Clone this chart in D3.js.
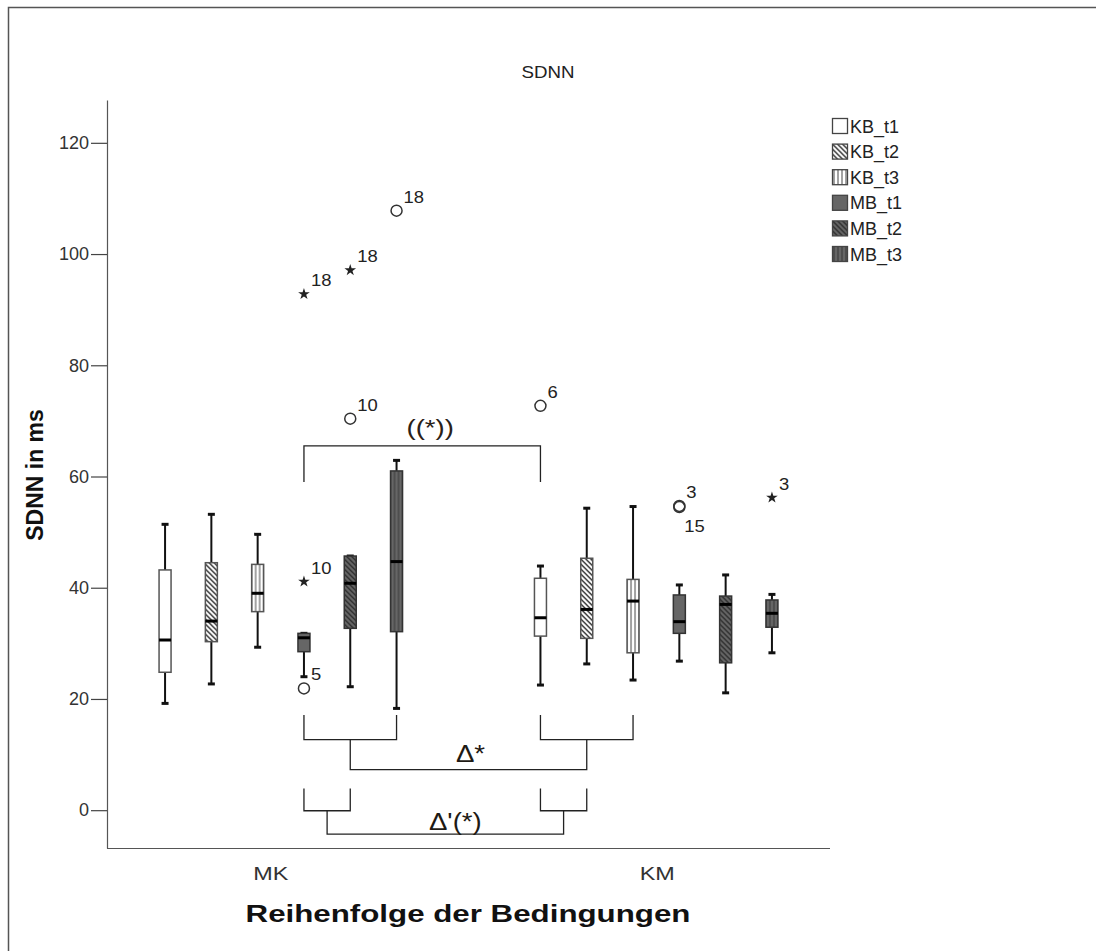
<!DOCTYPE html>
<html>
<head>
<meta charset="utf-8">
<script src="https://cdn.jsdelivr.net/npm/d3@7"></script>
<style>
  body { margin: 0; background: #fff; }
  svg text { font-family: "Liberation Sans", Arial, sans-serif; }
</style>
</head>
<body>
<svg id="chart" width="1096" height="951"></svg>
<script>
// groups on the x axis and the six box series inside each group
const groups = ["MK", "KM"];
const series = ["KB_t1", "KB_t2", "KB_t3", "MB_t1", "MB_t2", "MB_t3"];
const yTicks = [0, 20, 40, 60, 80, 100, 120];

// box statistics, one value per series
const mkLow  = [19.2, 22.7, 29.3, 24.0, 22.2, 18.3];
const mkQ1   = [24.8, 30.3, 35.7, 28.5, 32.7, 32.1];
const mkMed  = [30.6, 34.0, 39.0, 31.0, 40.8, 44.7];
const mkQ3   = [43.2, 44.5, 44.2, 31.8, 45.7, 61.0];
const mkHigh = [51.4, 53.2, 49.6, 31.8, 45.7, 62.9];

const kmLow  = [22.5, 26.3, 23.4, 26.8, 21.1, 28.3];
const kmQ1   = [31.3, 30.9, 28.3, 31.8, 26.5, 32.9];
const kmMed  = [34.6, 36.1, 37.6, 33.9, 37.0, 35.4];
const kmQ3   = [41.7, 45.3, 41.5, 38.7, 38.5, 37.8];
const kmHigh = [43.9, 54.3, 54.6, 40.5, 42.3, 38.8];

// outliers: group, series, value, kind, case label
const outliers = [
  ["MK", "MB_t1", 92.8, "star", "18"],
  ["MK", "MB_t2", 97.1, "star", "18"],
  ["MK", "MB_t3", 107.8, "circle", "18"],
  ["MK", "MB_t2", 70.4, "circle", "10"],
  ["MK", "MB_t1", 41.1, "star", "10"],
  ["MK", "MB_t1", 21.9, "circle", "5"],
  ["KM", "KB_t1", 72.7, "circle", "6"],
  ["KM", "MB_t1", 54.7, "circle", "3"],
  ["KM", "MB_t1", 54.5, "circle", "15"],
  ["KM", "MB_t3", 56.2, "star", "3"]
];

// significance brackets drawn over the boxes
const topBracket = { from: ["MK", "MB_t1"], to: ["KM", "KB_t1"], top: 65.5, foot: 59.0, label: "((*))", labelAt: 67.4 };
const lowBrackets = [
  { left: ["MK", ["MB_t1", "MB_t3"]], right: ["KM", ["KB_t1", "KB_t3"]], feet: [17.1, 12.7], base: 7.3, label: "\u0394*", labelAt: 8.7 },
  { left: ["MK", ["MB_t1", "MB_t2"]], right: ["KM", ["KB_t1", "KB_t2"]], feet: [3.9, -0.1], base: -4.3, label: "\u0394'(*)", labelAt: -3.6 }
];

const boxStats = {
  MK: series.map((s, i) => ({ s, lo: mkLow[i], q1: mkQ1[i], med: mkMed[i], q3: mkQ3[i], hi: mkHigh[i] })),
  KM: series.map((s, i) => ({ s, lo: kmLow[i], q1: kmQ1[i], med: kmMed[i], q3: kmQ3[i], hi: kmHigh[i] }))
};

const svg = d3.select("#chart");

// the original export is a bit wider than tall, so text runs look stretched
function stretch(sel, k) {
  sel.each(function () {
    const w = this.getComputedTextLength();
    d3.select(this).attr("textLength", w * k).attr("lengthAdjust", "spacingAndGlyphs");
  });
}

// frame (top and left edges only are visible)
svg.append("path").attr("d", "M8.5,951 L8.5,7.5 L1096,7.5")
  .attr("fill", "none").attr("stroke", "#555").attr("stroke-width", 1.5);

// patterns
const defs = svg.append("defs");
function hatch(id, bg, fg, kind) {
  const p = defs.append("pattern").attr("id", id).attr("patternUnits", "userSpaceOnUse")
    .attr("width", kind === "diag" ? 5 : 4).attr("height", kind === "diag" ? 5 : 4);
  p.append("rect").attr("width", 6).attr("height", 6).attr("fill", bg);
  if (kind === "diag") {
    p.append("path").attr("d", "M-1,-1 L6,6 M-1,4 L1,6 M4,-1 L6,1")
      .attr("stroke", fg).attr("stroke-width", 1.3);
  } else {
    p.append("line").attr("x1", 2).attr("x2", 2).attr("y1", 0).attr("y2", 4)
      .attr("stroke", fg).attr("stroke-width", 1.1);
  }
}
hatch("kb2", "#fff", "#222", "diag");
hatch("kb3", "#fff", "#555", "vert");
hatch("mb2", "#666", "#2a2a2a", "diag");
hatch("mb3", "#666", "#3a3a3a", "vert");
const fills = { KB_t1: "#fff", KB_t2: "url(#kb2)", KB_t3: "url(#kb3)", MB_t1: "#666", MB_t2: "url(#mb2)", MB_t3: "url(#mb3)" };

// scales
const y = d3.scaleLinear().domain([-6.8, 127.7]).range([848, 100]);
const xg = d3.scaleBand().domain(groups).range([107, 830]).paddingInner(0.26).paddingOuter(0.093);
const xs = d3.scaleBand().domain(series).range([0, xg.bandwidth()]);
const cx = (g, s) => xg(g) + xs(s) + xs.bandwidth() / 2;
const boxW = 12;

// axes
const yAxis = svg.append("g").attr("transform", "translate(107,0)")
  .call(d3.axisLeft(y).tickValues(yTicks).tickSize(16).tickSizeOuter(0).tickPadding(2));
yAxis.select(".domain").attr("stroke", "#555").attr("stroke-width", 1.2);
yAxis.selectAll(".tick line").attr("stroke", "#444").attr("stroke-width", 1.2);
yAxis.selectAll(".tick text").attr("font-size", 18).attr("fill", "#333")
  .attr("font-family", "'Liberation Sans', Arial, sans-serif");

const xAxis = svg.append("g").attr("transform", "translate(0,848)")
  .call(d3.axisBottom(xg).tickSize(0).tickSizeOuter(0));
xAxis.select(".domain").attr("stroke", "#555").attr("stroke-width", 1.2).attr("d", "M107,0.5H830");
xAxis.selectAll(".tick text").attr("font-size", 18).attr("fill", "#333").attr("dy", 29)
  .attr("dx", d => d === "MK" ? -10 : 1)
  .attr("font-family", "'Liberation Sans', Arial, sans-serif")
  .call(stretch, 1.3);

// titles
svg.append("text").attr("x", 548).attr("y", 78).attr("text-anchor", "middle")
  .attr("font-size", 17).attr("fill", "#222").text("SDNN")
  .call(stretch, 1.1);
svg.append("text").attr("transform", "translate(43,475) rotate(-90)").attr("text-anchor", "middle")
  .attr("font-size", 23).attr("font-weight", "bold").attr("fill", "#111").text("SDNN in ms");
svg.append("text").attr("x", 468).attr("y", 922).attr("text-anchor", "middle")
  .attr("font-size", 23).attr("font-weight", "bold").attr("fill", "#111").text("Reihenfolge der Bedingungen")
  .call(stretch, 1.36);

// boxes
const plot = svg.append("g");
groups.forEach(g => {
  const gg = plot.append("g").selectAll("g").data(boxStats[g]).join("g")
    .attr("transform", d => `translate(${cx(g, d.s)},0)`);
  // whiskers
  gg.append("line").attr("y1", d => y(d.hi)).attr("y2", d => y(d.q3))
    .attr("stroke", "#111").attr("stroke-width", 2);
  gg.append("line").attr("y1", d => y(d.q1)).attr("y2", d => y(d.lo))
    .attr("stroke", "#111").attr("stroke-width", 2);
  gg.append("line").attr("x1", -3.5).attr("x2", 3.5).attr("y1", d => y(d.hi)).attr("y2", d => y(d.hi))
    .attr("stroke", "#111").attr("stroke-width", 3);
  gg.append("line").attr("x1", -3.5).attr("x2", 3.5).attr("y1", d => y(d.lo)).attr("y2", d => y(d.lo))
    .attr("stroke", "#111").attr("stroke-width", 3);
  // box
  gg.append("rect").attr("x", -boxW / 2).attr("width", boxW)
    .attr("y", d => y(d.q3)).attr("height", d => y(d.q1) - y(d.q3))
    .attr("fill", d => fills[d.s]).attr("stroke", d => d.s.startsWith("MB") ? "#333" : "#555")
    .attr("stroke-width", 1.5);
  // median
  gg.append("line").attr("x1", -boxW / 2).attr("x2", boxW / 2)
    .attr("y1", d => y(d.med)).attr("y2", d => y(d.med))
    .attr("stroke", "#000").attr("stroke-width", 3);
});

// outliers
const outG = plot.append("g");
outliers.forEach(([g, s, v, kind, lab]) => {
  const px = cx(g, s), py = y(v);
  if (kind === "circle") {
    outG.append("circle").attr("cx", px).attr("cy", py).attr("r", 5.5)
      .attr("fill", "none").attr("stroke", "#333").attr("stroke-width", 1.5);
  } else {
    outG.append("path").attr("d", d3.symbol(d3.symbolStar, 42)())
      .attr("transform", `translate(${px},${py})`).attr("fill", "#222");
  }
  const below = lab === "15";
  outG.append("text").attr("x", px + (below ? 5 : 7)).attr("y", py + (below ? 25 : -8))
    .attr("font-size", 16).attr("fill", "#222").text(lab)
    .call(stretch, 1.15);
});

// significance brackets
const br = svg.append("g").attr("fill", "none").attr("stroke", "#222").attr("stroke-width", 1.3);
const tx1 = cx(...topBracket.from), tx2 = cx(...topBracket.to);
br.append("path").attr("d",
  `M${tx1},${y(topBracket.foot)} V${y(topBracket.top)} H${tx2} V${y(topBracket.foot)}`);
svg.append("text").attr("x", (tx1 + tx2) / 2 + 8).attr("y", y(topBracket.labelAt)).attr("text-anchor", "middle")
  .attr("font-size", 22).attr("fill", "#2a2118").text(topBracket.label)
  .call(stretch, 1.25);

lowBrackets.forEach((b, i) => {
  const l1 = cx(b.left[0], b.left[1][0]), l2 = cx(b.left[0], b.left[1][1]);
  const r1 = cx(b.right[0], b.right[1][0]), r2 = cx(b.right[0], b.right[1][1]);
  const lm = (l1 + l2) / 2, rm = (r1 + r2) / 2;
  const f0 = y(b.feet[0]), f1 = y(b.feet[1]), base = y(b.base);
  br.append("path").attr("d", `M${l1},${f0} V${f1} H${l2} V${f0}`);
  br.append("path").attr("d", `M${r1},${f0} V${f1} H${r2} V${f0}`);
  br.append("path").attr("d", `M${lm},${f1} V${base} H${rm} V${f1}`);
  svg.append("text").attr("x", (lm + rm) / 2 + (i === 0 ? 2 : 10)).attr("y", y(b.labelAt)).attr("text-anchor", "middle")
    .attr("font-size", 23).attr("fill", "#1e1a14").text(b.label)
    .call(stretch, 1.2);
});

// legend
const legend = svg.append("g").attr("transform", "translate(832,118)");
const li = legend.selectAll("g").data(series).join("g")
  .attr("transform", (d, i) => `translate(0,${i * 25.6})`);
li.append("rect").attr("x", 0.5).attr("y", 0.5).attr("width", 15).attr("height", 15)
  .attr("fill", d => fills[d]).attr("stroke", "#444").attr("stroke-width", 1.3);
li.append("text").attr("x", 18).attr("y", 14.5).attr("font-size", 18).attr("fill", "#222").text(d => d);
</script>
</body>
</html>
